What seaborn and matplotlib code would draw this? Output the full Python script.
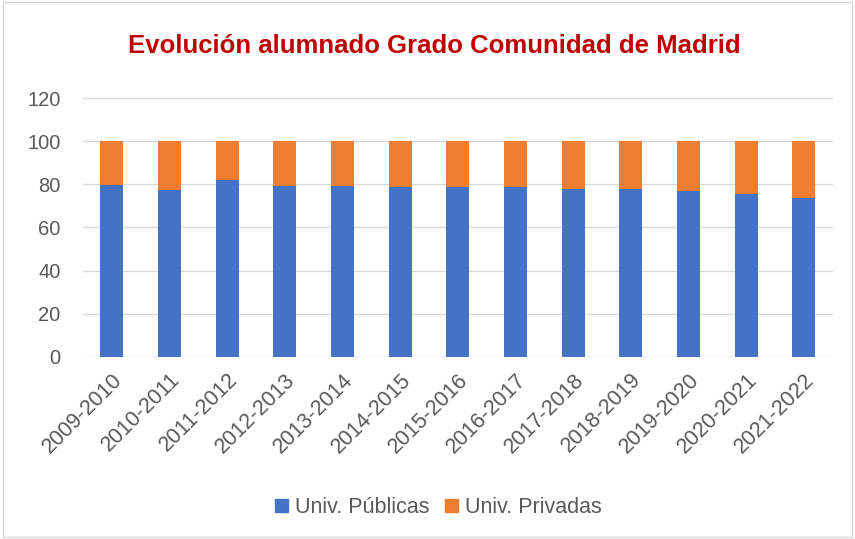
import pandas as pd
import matplotlib.pyplot as plt
import seaborn as sns
from matplotlib.patches import Patch, Rectangle

cursos = ['2009-2010', '2010-2011', '2011-2012', '2012-2013', '2013-2014',
          '2014-2015', '2015-2016', '2016-2017', '2017-2018', '2018-2019',
          '2019-2020', '2020-2021', '2021-2022']
publicas = [79.8, 77.6, 81.9, 79.2, 79.3, 78.7, 78.7, 78.6, 77.8, 77.9, 76.9, 75.7, 73.8]
privadas = [20.2, 22.4, 18.1, 20.8, 20.7, 21.3, 21.3, 21.4, 22.2, 22.1, 23.1, 24.3, 26.2]

AZUL = '#4472C4'
NARANJA = '#ED7D31'
GRIS = '#595959'


def main():
    df = pd.DataFrame({'Curso': cursos, 'Publicas': publicas, 'Privadas': privadas})
    df['Total'] = df['Publicas'] + df['Privadas']

    sns.set_style('white')
    plt.rcParams['font.family'] = ['Liberation Sans', 'DejaVu Sans']

    fig = plt.figure(figsize=(8.55, 5.39), dpi=100)
    ax = fig.add_axes([0.097, 0.338, 0.877, 0.48])

    # apilado: primero el total (naranja), luego las públicas encima
    sns.barplot(data=df, x='Curso', y='Total', color=NARANJA, width=0.4,
                saturation=1, linewidth=0, ax=ax, zorder=2)
    sns.barplot(data=df, x='Curso', y='Publicas', color=AZUL, width=0.4,
                saturation=1, linewidth=0, ax=ax, zorder=3)

    ax.set_ylim(0, 120)
    ax.set_yticks(range(0, 121, 20))
    ax.set_xlim(-0.5, len(cursos) - 0.5)
    ax.grid(axis='y', color='#D9D9D9', linewidth=1, zorder=0)
    ax.set_axisbelow(True)
    for s in ax.spines.values():
        s.set_visible(False)
    ax.set_xlabel('')
    ax.set_ylabel('')
    ax.tick_params(axis='y', labelsize=14.5, colors=GRIS, length=0, pad=16)
    ax.tick_params(axis='x', labelsize=15.5, colors=GRIS, length=0, pad=9)
    plt.setp(ax.get_xticklabels(), rotation=45, ha='right', rotation_mode='anchor')

    fig.text(0.508, 0.915, 'Evolución alumnado Grado Comunidad de Madrid',
             ha='center', va='center', fontsize=18.5, fontweight='bold', color='#C00000')

    handles = [Patch(color=AZUL, label='Univ. Públicas'),
               Patch(color=NARANJA, label='Univ. Privadas')]
    fig.legend(handles=handles, loc='center', bbox_to_anchor=(0.513, 0.058), ncol=2,
               frameon=False, fontsize=15.5, labelcolor=GRIS, handlelength=0.6,
               handleheight=0.6, handletextpad=0.35, columnspacing=0.7)

    fig.patches.append(Rectangle((0.003, 0.003), 0.994, 0.994, transform=fig.transFigure,
                                 fill=False, edgecolor='#D9D9D9', linewidth=1))

    fig.savefig('out.png', dpi=100)


if __name__ == "__main__":
    main()
